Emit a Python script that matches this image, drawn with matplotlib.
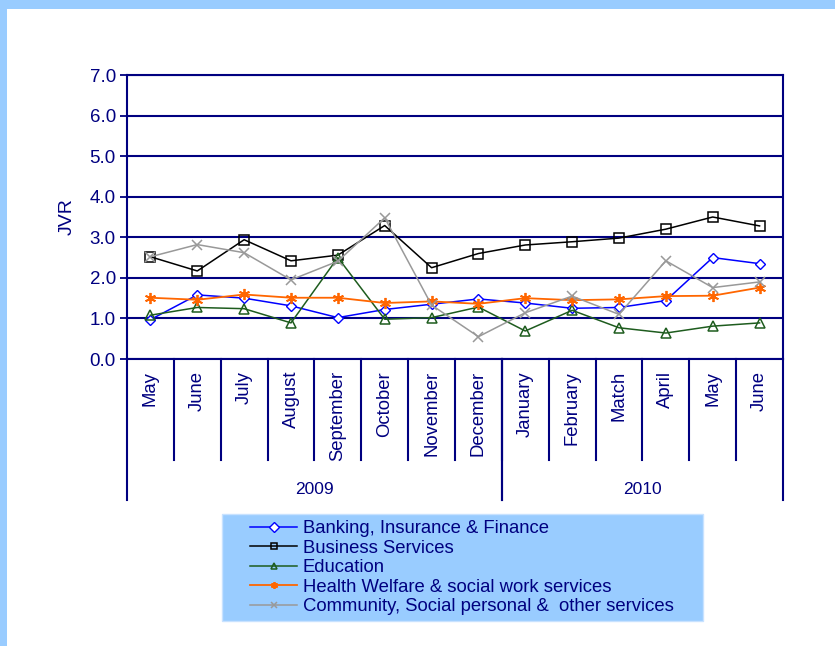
import matplotlib
matplotlib.use("Agg")
import matplotlib.pyplot as plt
import matplotlib.transforms as mtransforms
from matplotlib.patches import Rectangle
from matplotlib.lines import Line2D

months = ["May", "June", "July", "August", "September", "October", "November",
          "December", "January", "February", "Match", "April", "May", "June"]
years = ["2009", "2010"]
months_per_year = [8, 6]

banking = [0.97, 1.58, 1.50, 1.31, 1.02, 1.22, 1.35, 1.48, 1.38, 1.25, 1.27, 1.44, 2.50, 2.35]
business = [2.52, 2.17, 2.94, 2.42, 2.56, 3.29, 2.25, 2.60, 2.81, 2.89, 2.98, 3.20, 3.50, 3.28]
education = [1.08, 1.27, 1.24, 0.89, 2.50, 0.98, 1.02, 1.28, 0.69, 1.20, 0.77, 0.64, 0.81, 0.89]
health = [1.51, 1.46, 1.59, 1.51, 1.51, 1.38, 1.42, 1.36, 1.50, 1.45, 1.47, 1.55, 1.56, 1.76]
community = [2.52, 2.82, 2.62, 1.95, 2.41, 3.48, 1.33, 0.55, 1.14, 1.55, 1.10, 2.42, 1.76, 1.90]

navy = "#000080"
fnt = "Liberation Sans"

fig = plt.figure(figsize=(8.35, 6.46), dpi=100)
fig.patch.set_facecolor("white")
# light blue frame at top and left
fig.patches.append(Rectangle((0, 1 - 9 / 646), 1, 9 / 646, transform=fig.transFigure,
                             facecolor="#99CCFF", edgecolor="none", zorder=0))
fig.patches.append(Rectangle((0, 0), 7 / 835, 1, transform=fig.transFigure,
                             facecolor="#99CCFF", edgecolor="none", zorder=0))
# legend background box
fig.patches.append(Rectangle((222 / 835, 1 - 621 / 646), 481 / 835, 107 / 646,
                             transform=fig.transFigure, facecolor="#99CCFF",
                             edgecolor="#C8E2FF", lw=1, zorder=0))

ax = fig.add_axes([127 / 835, 1 - 359 / 646, 656 / 835, 284 / 646])
x = list(range(len(months)))

ax.plot(x, banking, color="#0000FF", lw=1.1, marker="D", ms=5.5, mfc="white",
        mec="#0000FF", mew=1, label="Banking, Insurance & Finance", zorder=5)
ax.plot(x, business, color="black", lw=1.1, marker="s", ms=7, mfc="none",
        mec="black", mew=1.1, label="Business Services", zorder=5)
ax.plot(x, education, color="#1E5C1E", lw=1.1, marker="^", ms=7.5, mfc="none",
        mec="#1E5C1E", mew=1.1, label="Education", zorder=5)
ax.plot(x, health, color="#FF6600", lw=1.3, marker=(6, 2, 0), ms=8, mec="#FF6600",
        mew=1.3, label="Health Welfare & social work services", zorder=5)
ax.plot(x, community, color="#999999", lw=1.1, marker="x", ms=6.5, mec="#999999",
        mew=1.1, label="Community, Social personal &  other services", zorder=5)

ax.set_xlim(-0.5, len(months) - 0.5)
ax.set_ylim(0, 7)
ax.set_yticks(range(8))
ax.set_yticklabels([f"{v:.1f}" for v in range(8)], fontfamily=fnt, fontsize=13.5, color=navy)
ax.tick_params(axis="y", length=5, width=1.3, color=navy, pad=3)
ax.set_xticks([])
ax.grid(axis="y", color=navy, lw=1.5)
ax.set_axisbelow(True)
for s in ax.spines.values():
    s.set_color(navy)
    s.set_linewidth(1.5)
ax.set_ylabel("JVR", fontfamily=fnt, fontsize=14, color=navy, labelpad=10)

trans = mtransforms.blended_transform_factory(ax.transData, ax.transAxes)
short = -101 / 284
long_ = -141 / 284
for i, m in enumerate(months):
    ax.text(i, -12 / 284, m, rotation=90, ha="center", va="top", transform=trans,
            fontfamily=fnt, fontsize=13.3, color=navy)
for b in range(1, len(months)):
    ax.add_line(Line2D([b - 0.5, b - 0.5], [0, short], transform=trans, color=navy,
                       lw=1.5, clip_on=False))
start = 0
for yr, n in zip(years, months_per_year):
    left, right = start - 0.5, start + n - 0.5
    for edge in (left, right):
        ax.add_line(Line2D([edge, edge], [0, long_], transform=trans, color=navy,
                           lw=1.5, clip_on=False))
    ax.text((left + right) / 2, -131 / 284, yr, ha="center", va="center", transform=trans,
            fontfamily=fnt, fontsize=12.5, color=navy)
    start += n

leg = fig.legend(loc="upper left", bbox_to_anchor=(250 / 835, 1 - 520 / 646),
                 borderaxespad=0, frameon=False, borderpad=0,
                 prop={"family": fnt, "size": 13.3}, labelspacing=0.14,
                 handlelength=2.55, handletextpad=0.3)
for t in leg.get_texts():
    t.set_color(navy)
for h in leg.legend_handles:
    h.set_markersize(5)

fig.savefig("out.png", dpi=100)
